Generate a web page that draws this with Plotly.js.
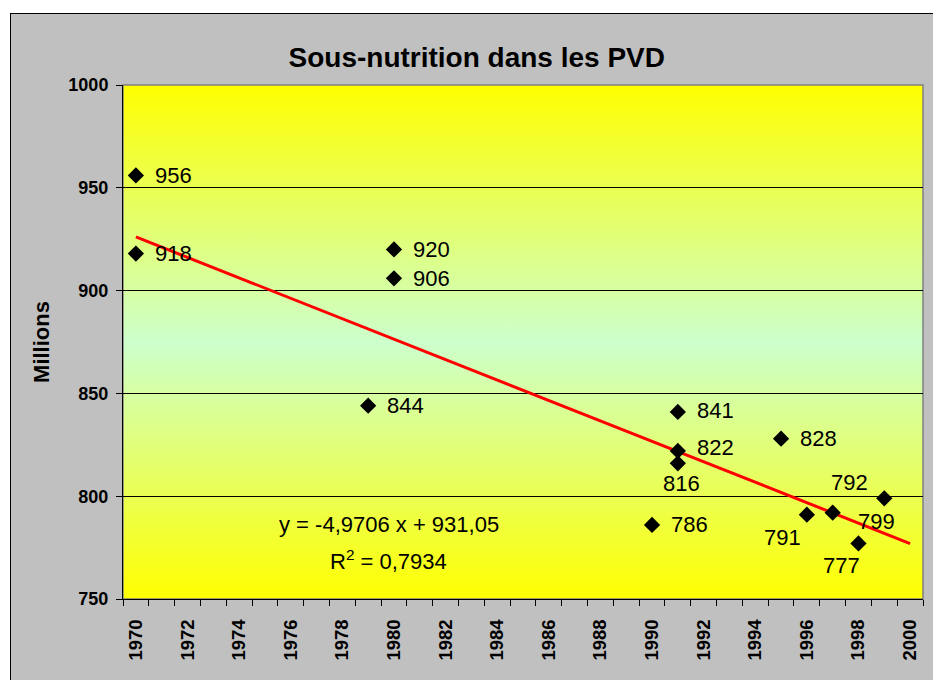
<!DOCTYPE html>
<html>
<head>
<meta charset="utf-8">
<script src="https://cdn.plot.ly/plotly-3.0.1.min.js"></script>
<style>
  html, body { margin: 0; padding: 0; background: #ffffff; }
  body { width: 933px; height: 680px; overflow: hidden; position: relative; }
  #frame { position: absolute; left: 10px; top: 13px; width: 940px; height: 690px;
           background: #C0C0C0; border-left: 1px solid #000; border-top: 1px solid #000; }
  #chart { position: absolute; left: 0; top: 0; width: 933px; height: 680px; }
</style>
</head>
<body>
<div id="frame"></div>
<div id="chart"></div>
<script>
// ---- data ----
const years  = [1970, 1970, 1979, 1980, 1980, 1990, 1991, 1991, 1991, 1995, 1996, 1997, 1998, 1999];
const values = [956, 918, 844, 920, 906, 786, 841, 822, 816, 828, 791, 792, 777, 799];
const xTickYears = [1970, 1972, 1974, 1976, 1978, 1980, 1982, 1984, 1986, 1988, 1990, 1992, 1994, 1996, 1998, 2000];
const yTicks = [750, 800, 850, 900, 950, 1000];
const trendSlope = -4.9706;       // per category index (1970 = 1)
const trendIntercept = 931.05;
const trendYears = [1970, 2000];
const equationText = 'y = -4,9706 x + 931,05';
const r2Text = 'R<sup>2</sup> = 0,7934';

// label placement (style only): [xanchor, xshift, yshift]
const labelPlacement = [
  ['left', 17, 0], ['left', 17, 0], ['left', 17, 0], ['left', 17, 0], ['left', 17, 0],
  ['left', 17, 0], ['left', 17, 1], ['left', 17, 3], ['center', 4, -20], ['left', 17, 0],
  ['center', -24, -23], ['center', 17, 30], ['center', -17, -22], ['center', -8, -23]
];

const FONT = '"Liberation Sans", Arial, sans-serif';

const trendY = trendYears.map(yr => trendIntercept + trendSlope * (yr - 1969));

const points = {
  x: years, y: values, type: 'scatter', mode: 'markers',
  marker: { symbol: 'diamond', size: 12.5, color: '#000' },
  cliponaxis: false, hoverinfo: 'x+y', showlegend: false
};
const trend = {
  x: trendYears, y: trendY, type: 'scatter', mode: 'lines',
  line: { color: '#FF0000', width: 3 }, hoverinfo: 'skip', showlegend: false
};

const labelAnnotations = values.map((v, i) => ({
  text: String(v), x: years[i], y: v, xref: 'x', yref: 'y', showarrow: false,
  xanchor: labelPlacement[i][0], yanchor: 'middle',
  xshift: labelPlacement[i][1], yshift: labelPlacement[i][2],
  font: { family: FONT, size: 22, color: '#000' }
}));

const svg = "<svg xmlns='http://www.w3.org/2000/svg' width='100' height='100' preserveAspectRatio='none'>" +
  "<defs><linearGradient id='g' x1='0' y1='0' x2='0' y2='1'>" +
  "<stop offset='0' stop-color='#FFFF00'/><stop offset='0.5' stop-color='#CCFFCC'/><stop offset='1' stop-color='#FFFF00'/>" +
  "</linearGradient></defs><rect width='100' height='100' fill='url(#g)'/></svg>";
const bgSrc = 'data:image/svg+xml;charset=utf-8,' + encodeURIComponent(svg);

const layout = {
  width: 933, height: 680,
  margin: { l: 123, r: 10, t: 85, b: 81 },
  paper_bgcolor: 'rgba(0,0,0,0)',
  plot_bgcolor: 'rgba(0,0,0,0)',
  font: { family: FONT, color: '#000' },
  title: { text: '<b>Sous-nutrition dans les PVD</b>', font: { family: FONT, size: 28, color: '#000' },
           xref: 'container', yref: 'container', x: 0.511, y: 1 - 57 / 680, xanchor: 'center', yanchor: 'middle' },
  xaxis: {
    range: [1969.5, 2000.5], tickmode: 'array', tickvals: xTickYears, ticktext: xTickYears.map(y => '<b>' + y + '</b>'),
    tickangle: -90, tickfont: { family: FONT, size: 18.5, color: '#000' },
    ticks: 'outside', ticklen: 12, tickcolor: 'rgba(0,0,0,0)',
    minor: { tick0: 1969.5, dtick: 1, ticks: 'outside', ticklen: 6, tickcolor: '#000', tickwidth: 1, showgrid: false },
    showgrid: false, zeroline: false, showline: true, linecolor: '#000', linewidth: 1, fixedrange: true
  },
  yaxis: {
    range: [750, 1000], tickmode: 'array', tickvals: yTicks, ticktext: yTicks.map(v => '<b>' + v + '</b>'),
    tickfont: { family: FONT, size: 18, color: '#000' },
    ticks: 'outside', ticklen: 6, tickcolor: '#000', tickwidth: 1, ticklabelstandoff: 4,
    showgrid: true, gridcolor: '#000', gridwidth: 1,
    zeroline: false, showline: true, linecolor: '#000', linewidth: 1, fixedrange: true,
    title: { text: '<b>Millions</b>', font: { family: FONT, size: 22, color: '#000' }, standoff: 12 }
  },
  images: [{ source: bgSrc, xref: 'paper', yref: 'paper', x: 0, y: 1, sizex: 1, sizey: 1,
             sizing: 'stretch', xanchor: 'left', yanchor: 'top', layer: 'below' }],
  shapes: [{ type: 'rect', xref: 'paper', yref: 'paper', x0: 0, x1: 1, y0: 0, y1: 1,
             line: { color: '#808080', width: 1.5 }, fillcolor: 'rgba(0,0,0,0)', layer: 'below' }],
  annotations: [
    { text: equationText, x: 1979.8, y: 786, xref: 'x', yref: 'y', showarrow: false,
      font: { family: FONT, size: 22, color: '#000' } },
    { text: r2Text, x: 1979.8, y: 769, xref: 'x', yref: 'y', showarrow: false,
      font: { family: FONT, size: 22, color: '#000' } }
  ].concat(labelAnnotations)
};

Plotly.newPlot('chart', [trend, points], layout, { displayModeBar: false, staticPlot: true });
</script>
</body>
</html>
